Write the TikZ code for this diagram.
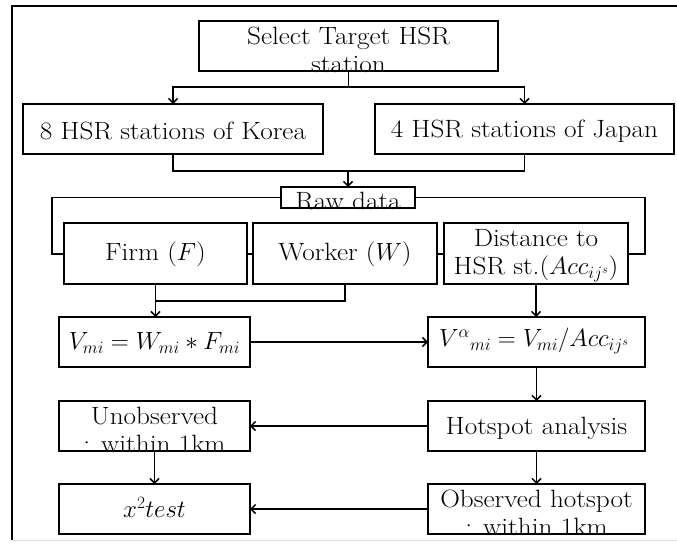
\documentclass[tikz,border=0pt]{standalone}
\usepackage{fontspec}
\setmainfont{Latin Modern Roman}[FakeStretch=1.09]
\usetikzlibrary{arrows.meta}
\begin{document}
\begin{tikzpicture}[x=1pt,y=-1pt,
  box/.style={draw=black,line width=1.8pt,fill=white,inner sep=0pt,outer sep=0pt},
  txt/.style={inner sep=0pt,align=center,font=\fontsize{25}{28}\selectfont},
  conn/.style={line width=1.8pt},
  arr/.style={line width=1.8pt,-{Straight Barb[length=4.5pt,width=9pt,line width=1.5pt]}}]
\useasboundingbox[fill=white] (0,0) rectangle (677,546);
% frame
\draw[line width=2.8pt] (12,540) -- (12,6) -- (677,6);
\draw[line width=1pt,black!12] (12,540) -- (677,540);
% boxes
\node[box,minimum width=299pt,minimum height=50pt] (sel) at (348.5,46) {};
\node[box,minimum width=300pt,minimum height=50pt] (kor) at (173,129) {};
\node[box,minimum width=299pt,minimum height=50pt] (jap) at (524.5,129) {};
\node[box,minimum width=134pt,minimum height=21pt] (raw) at (348,197.5) {};
\coordinate (bl) at (52,254);
\coordinate (br) at (645,254);
\draw[conn] (raw.west) -| (bl) -- (br) |- (raw.east);
\node[box,minimum width=183pt,minimum height=61pt] (firm) at (155.5,253.5) {};
\node[box,minimum width=184pt,minimum height=61pt] (work) at (345,253.5) {};
\node[box,minimum width=184pt,minimum height=61pt] (dist) at (536,253.5) {};
\node[box,minimum width=191pt,minimum height=50pt] (vm) at (154.5,342) {};
\node[box,minimum width=217pt,minimum height=50pt] (va) at (536.5,342) {};
\node[box,minimum width=191pt,minimum height=50pt] (unob) at (154.5,426) {};
\node[box,minimum width=217pt,minimum height=50pt] (hot) at (536.5,426) {};
\node[box,minimum width=191pt,minimum height=50pt] (chi) at (154.5,509) {};
\node[box,minimum width=217pt,minimum height=50pt] (obs) at (536.5,509) {};
% texts
\node[txt] (tsel) at (348.5,50) {Select Target HSR\\station};
\node[txt] (tkor) at (173,131) {8 HSR stations of Korea};
\node[txt] (tjap) at (524.5,131) {4 HSR stations of Japan};
\node[txt] (traw) at (348,201) {Raw data};
\node[txt] (tfirm) at (155.5,254) {Firm ($F$)};
\node[txt] (twork) at (345,254) {Worker ($W$)};
\node[txt] (tdist) at (536,256) {Distance to\\HSR st.($Acc_{ij^s}$)};
\node[txt] (tvm) at (154.5,343) {$V_{mi}=W_{mi}*F_{mi}$};
\node[txt] (tva) at (534,341) {${V^{\alpha}}_{mi}=V_{mi}/Acc_{ij^s}$};
\node[txt] (tunob) at (154.5,430) {Unobserved\\: within 1km};
\node[txt] (thot) at (536.5,428) {Hotspot analysis};
\node[txt] (tchi) at (154.5,507) {$x^2test$};
\node[txt] (tobs) at (536.5,513) {Observed hotspot\\: within 1km};
% connectors
\coordinate (j1) at (348.5,87);
\draw[conn] (sel.south) -- (j1);
\draw[arr] (j1) -| (kor.north);
\draw[arr] (j1) -| (jap.north);
\coordinate (j2) at (348,171);
\draw[conn] (kor.south) |- (j2);
\draw[conn] (jap.south) |- (j2);
\draw[arr] (j2) -- (raw.north);
\coordinate (j3) at (155.5,301);
\draw[conn] (work.south) |- (j3);
\draw[arr] (firm.south) -- (firm.south |- vm.north);
\draw[arr] (dist.south) -- (dist.south |- va.north);
\draw[arr] (vm.east) -- (va.west);
\draw[arr] (va.south) -- (hot.north);
\draw[arr] (hot.west) -- (unob.east);
\draw[arr] (unob.south) -- (chi.north);
\draw[arr] (hot.south) -- (obs.north);
\draw[arr] (obs.west) -- (chi.east);
\end{tikzpicture}
\end{document}
